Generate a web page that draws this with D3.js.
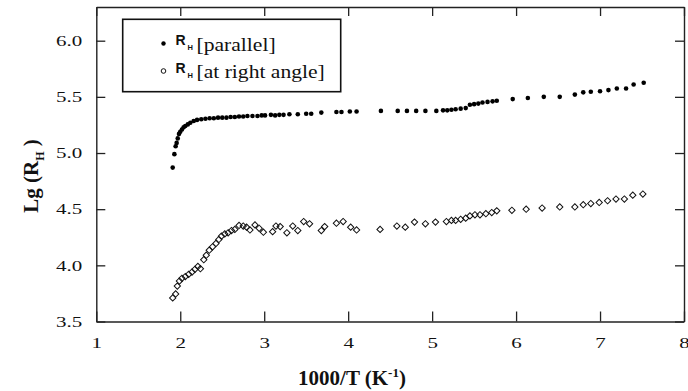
<!DOCTYPE html>
<html>
<head>
  <meta charset="utf-8">
  <title>Lg(RH) vs 1000/T</title>
  <script src="https://d3js.org/d3.v7.min.js"></script>
  <style>
    body { margin: 0; background: #fff; }
  </style>
</head>
<body>
  <script>
  // data: [1000/T, Lg(RH)]
  var parallel = [
    [1.91,4.87],[1.93,4.99],[1.945,5.06],[1.957,5.09],[1.97,5.13],[1.985,5.17],[2.0,5.19],
    [2.02,5.21],[2.04,5.23],[2.06,5.24],[2.09,5.255],[2.12,5.27],[2.16,5.285],[2.2,5.295],
    [2.25,5.30],[2.3,5.305],[2.35,5.31],[2.4,5.31],[2.45,5.315],[2.5,5.315],[2.55,5.315],
    [2.6,5.32],[2.65,5.32],[2.7,5.325],[2.75,5.325],[2.8,5.33],[2.86,5.33],[2.92,5.33],
    [2.97,5.335],[3.01,5.335],[3.08,5.34],[3.13,5.335],[3.18,5.34],[3.23,5.34],[3.3,5.345],
    [3.4,5.345],[3.5,5.35],[3.56,5.35],[3.68,5.36],[3.86,5.365],[3.92,5.365],[4.02,5.37],
    [4.10,5.37],[4.39,5.375],[4.59,5.375],[4.70,5.375],[4.81,5.375],[4.92,5.375],[5.05,5.375],
    [5.13,5.38],[5.18,5.38],[5.23,5.385],[5.28,5.39],[5.34,5.395],[5.40,5.40],[5.45,5.43],
    [5.50,5.435],[5.55,5.44],[5.60,5.45],[5.66,5.455],[5.72,5.46],[5.77,5.465],[5.96,5.48],
    [6.14,5.49],[6.33,5.50],[6.52,5.50],[6.70,5.52],[6.80,5.54],[6.89,5.545],[7.0,5.55],
    [7.10,5.56],[7.20,5.575],[7.31,5.575],[7.40,5.61],[7.52,5.625]
  ];
  var rightAngle = [
    [1.91,3.71],[1.945,3.745],[1.965,3.815],[1.99,3.86],[2.02,3.885],[2.06,3.90],[2.10,3.92],
    [2.14,3.94],[2.175,3.965],[2.21,3.99],[2.24,3.97],[2.28,4.05],[2.31,4.09],[2.345,4.135],
    [2.385,4.165],[2.425,4.195],[2.46,4.23],[2.49,4.26],[2.53,4.28],[2.57,4.29],[2.61,4.31],
    [2.65,4.32],[2.70,4.355],[2.75,4.35],[2.79,4.34],[2.83,4.315],[2.89,4.36],[2.94,4.33],
    [2.99,4.295],[3.10,4.30],[3.14,4.35],[3.19,4.345],[3.27,4.29],[3.34,4.35],[3.40,4.31],
    [3.47,4.39],[3.54,4.37],[3.68,4.31],[3.72,4.345],[3.86,4.375],[3.94,4.39],[4.03,4.34],
    [4.10,4.315],[4.38,4.32],[4.58,4.35],[4.68,4.34],[4.79,4.385],[4.92,4.37],[5.04,4.385],
    [5.17,4.39],[5.23,4.40],[5.28,4.40],[5.34,4.41],[5.40,4.42],[5.45,4.44],[5.51,4.45],
    [5.57,4.45],[5.64,4.46],[5.71,4.47],[5.77,4.485],[5.95,4.49],[6.12,4.50],[6.31,4.51],
    [6.52,4.52],[6.70,4.52],[6.80,4.54],[6.89,4.55],[6.99,4.56],[7.09,4.575],[7.19,4.59],
    [7.29,4.59],[7.39,4.625],[7.51,4.635]
  ];
  var xTicks = [1, 2, 3, 4, 5, 6, 7, 8];
  var yTicks = [3.5, 4.0, 4.5, 5.0, 5.5, 6.0];
  var legendLabels = ["[parallel]", "[at right angle]"];

  var width = 688, height = 391;
  var margin = { top: 7, right: 4, bottom: 69.5, left: 96.3 };
  var stretch = 1.4; // the figure's digits are wider than plain Times

  var svg = d3.select("body").append("svg").attr("width", width).attr("height", height);

  var x = d3.scaleLinear().domain([1, 8]).range([margin.left, width - margin.right]);
  var y = d3.scaleLinear().domain([3.5, 6.3]).range([height - margin.bottom, margin.top]);

  var serif = "'Liberation Serif', 'Times New Roman', serif";

  // frame with inward ticks on all four sides
  function styleAxis(g) {
    g.selectAll("path").attr("stroke", "#222").attr("stroke-width", 1.4);
    g.selectAll("line").attr("stroke", "#222").attr("stroke-width", 1.3);
  }

  var bottom = svg.append("g")
    .attr("transform", "translate(0," + y.range()[0] + ")")
    .call(d3.axisBottom(x).tickValues(xTicks).tickFormat(d3.format("d")).tickSizeInner(-10).tickSizeOuter(0).tickPadding(16))
    .call(styleAxis);
  bottom.selectAll("text")
    .attr("font-family", serif).attr("font-size", 15).attr("fill", "#111")
    .attr("transform", "scale(" + stretch + ",1)");

  var left = svg.append("g")
    .attr("transform", "translate(" + margin.left + ",0)")
    .call(d3.axisLeft(y).tickValues(yTicks).tickFormat(d3.format(".1f")).tickSizeInner(-9).tickSizeOuter(0))
    .call(styleAxis);
  left.selectAll("text")
    .attr("font-family", serif).attr("font-size", 15).attr("fill", "#111")
    .attr("x", -14 / stretch)
    .attr("transform", "scale(" + stretch + ",1)");

  svg.append("g")
    .attr("transform", "translate(0," + margin.top + ")")
    .call(d3.axisTop(x).tickValues(xTicks).tickFormat("").tickSizeInner(-9).tickSizeOuter(0))
    .call(styleAxis);

  svg.append("g")
    .attr("transform", "translate(" + (width - margin.right) + ",0)")
    .call(d3.axisRight(y).tickValues(yTicks).tickFormat("").tickSizeInner(-9).tickSizeOuter(0))
    .call(styleAxis);

  // axis titles
  var xt = svg.append("text")
    .attr("x", 352).attr("y", 385)
    .attr("text-anchor", "middle")
    .attr("font-family", serif).attr("font-weight", "bold").attr("font-size", 21).attr("fill", "#111")
    .text("1000/T (K");
  xt.append("tspan").attr("font-size", 13).attr("dy", -8).text("-1");
  xt.append("tspan").attr("dy", 8).text(")");

  var yt = svg.append("text")
    .attr("transform", "translate(38," + 176 + ") rotate(-90)")
    .attr("text-anchor", "middle")
    .attr("font-family", serif).attr("font-weight", "bold").attr("font-size", 21).attr("fill", "#111")
    .text("Lg (R");
  yt.append("tspan").attr("font-size", 12).attr("dy", 6).text("H");
  yt.append("tspan").attr("dy", -6).text(" )");

  // series
  svg.append("g").selectAll("path")
    .data(rightAngle)
    .enter()
    .append("path")
    .attr("transform", function(d) { return "translate(" + x(d[0]) + "," + y(d[1]) + ") rotate(45)"; })
    .attr("d", d3.symbol(d3.symbolSquare, 20))
    .attr("fill", "none")
    .attr("stroke", "#111")
    .attr("stroke-width", 1);

  svg.append("g").selectAll("circle")
    .data(parallel)
    .enter()
    .append("circle")
    .attr("cx", function(d) { return x(d[0]); })
    .attr("cy", function(d) { return y(d[1]); })
    .attr("r", 2.3)
    .attr("fill", "#000");

  // legend
  var legend = svg.append("g");
  legend.append("rect")
    .attr("x", 122.7).attr("y", 19.3).attr("width", 218).attr("height", 72.4)
    .attr("fill", "#fff").attr("stroke", "#111").attr("stroke-width", 1.6);

  legendLabels.forEach(function(label, i) {
    var row = legend.append("g").attr("transform", "translate(0," + (i * 27.5) + ")");
    row.append("circle")
      .attr("cx", 163.5).attr("cy", 43.5).attr("r", i === 0 ? 2.2 : 2.3)
      .attr("fill", i === 0 ? "#000" : "none")
      .attr("stroke", "#111").attr("stroke-width", i === 0 ? 0 : 1);
    row.append("text")
      .attr("x", 175.5).attr("y", 45)
      .attr("font-family", "'Liberation Sans', Arial, sans-serif").attr("font-weight", "bold")
      .attr("font-size", 14).attr("fill", "#111")
      .text("R");
    row.append("text")
      .attr("x", 187.5).attr("y", 50)
      .attr("font-family", "'Liberation Sans', Arial, sans-serif").attr("font-weight", "bold")
      .attr("font-size", 7.5).attr("fill", "#111")
      .text("H");
    row.append("text")
      .attr("transform", "translate(196.5,50.5) scale(1.2,1)")
      .attr("font-family", serif).attr("font-size", 18).attr("fill", "#111")
      .text(label);
  });
  </script>
</body>
</html>
